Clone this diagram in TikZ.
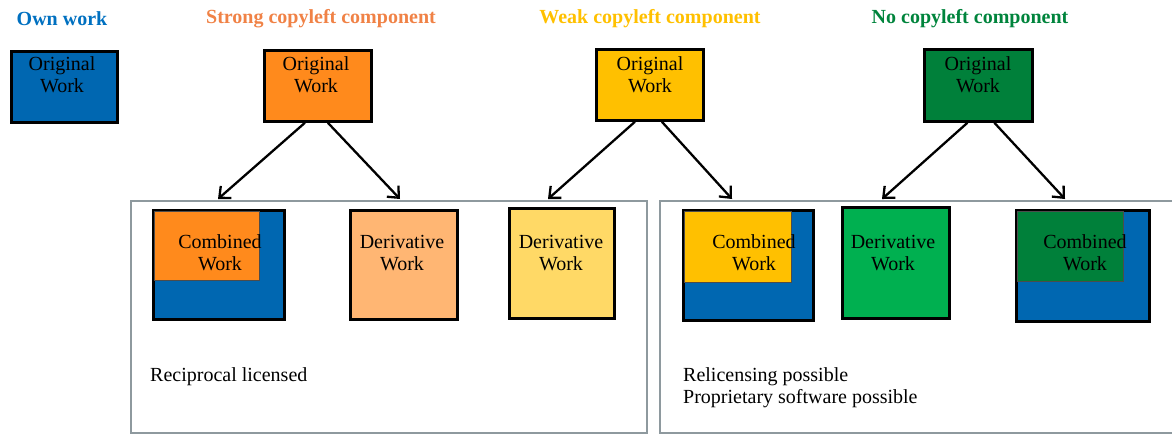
\documentclass[tikz,border=0pt]{standalone}
\usepackage{fontspec}
\setmainfont{Liberation Serif}
\usetikzlibrary{arrows.meta,positioning}

\definecolor{ownblue}{HTML}{0067B1}
\definecolor{ownhead}{HTML}{0070C0}
\definecolor{strongfill}{HTML}{FF8A1C}
\definecolor{stronghead}{HTML}{F08246}
\definecolor{strongderiv}{HTML}{FFB673}
\definecolor{weakfill}{HTML}{FFC000}
\definecolor{weakderiv}{HTML}{FFD966}
\definecolor{nofill}{HTML}{00803A}
\definecolor{nohead}{HTML}{00843C}
\definecolor{noderiv}{HTML}{00B050}
\definecolor{framegray}{HTML}{8E999E}

\tikzset{
  txt/.style={font=\fontsize{20}{22}\selectfont, align=center, inner sep=0pt},
  head/.style={font=\fontsize{20}{22}\selectfont\bfseries, inner sep=0pt},
  origbox/.style={draw=black, line width=2.8pt, rectangle, anchor=north west, inner sep=0pt},
  workbox/.style={draw=black, line width=2.5pt, rectangle, anchor=north west, inner sep=0pt},
  innerbox/.style={draw=black!70, line width=0.8pt, rectangle, anchor=north west, inner sep=0pt},
  group/.style={draw=framegray, line width=2.4pt, rectangle, anchor=north west, inner sep=0pt},
  arr/.style={draw=black, line width=2.3pt, -{Straight Barb[length=9pt,width=16pt,line width=2.3pt]}},
}

\begin{document}
\begin{tikzpicture}[x=1pt,y=-1pt]
\useasboundingbox (0,0) rectangle (1172,434);

% column headings
\node[head, text=ownhead]    (hown)    at (62,19)  {Own work};
\node[head, text=stronghead] (hstrong) at (321,19) {Strong copyleft component};
\node[head, text=weakfill]   (hweak)   at (650,19) {Weak copyleft component};
\node[head, text=nohead]     (hno)     at (970,19) {No copyleft component};

% group frames
\node[group, minimum width=516pt, minimum height=232pt] (recip) at (130,200) {};
\node[group, minimum width=530pt, minimum height=232pt] (relic) at (659,200) {};
\node[txt, anchor=west] (trecip) at (150,377) {Reciprocal licensed};
\node[txt, anchor=west, align=left] (trelic) at (683,388) {Relicensing possible\\Proprietary software possible};

% original works
\node[origbox, fill=ownblue,    minimum width=106pt, minimum height=71pt] (oown)    at (10,50)  {};
\node[origbox, fill=strongfill, minimum width=107pt, minimum height=71pt] (ostrong) at (263,49) {};
\node[origbox, fill=weakfill,   minimum width=107pt, minimum height=71pt] (oweak)   at (595,48) {};
\node[origbox, fill=nofill,     minimum width=108pt, minimum height=72pt] (ono)     at (923,48) {};
\node[txt] (toown)    at (62,75)  {Original\\Work};
\node[txt] (tostrong) at (316,75) {Original\\Work};
\node[txt] (toweak)   at (650,75) {Original\\Work};
\node[txt] (tono)     at (978,75) {Original\\Work};

% strong copyleft results
\node[workbox, fill=ownblue, minimum width=131pt, minimum height=109pt] (cstrong) at (152,209) {};
\node[innerbox, fill=strongfill, minimum width=105pt, minimum height=69pt] (cstrongin) at (153.5,210.5) {};
\node[txt] (tcstrong) at (220,253) {Combined\\Work};
\node[workbox, fill=strongderiv, minimum width=107pt, minimum height=109pt] (dstrong) at (349,209) {};
\node[txt] (tdstrong) at (402,253) {Derivative\\Work};

% weak copyleft results
\node[workbox, fill=weakderiv, minimum width=105pt, minimum height=110pt] (dweak) at (508,207) {};
\node[txt] (tdweak) at (561,253) {Derivative\\Work};
\node[workbox, fill=ownblue, minimum width=130pt, minimum height=110pt] (cweak) at (682,209) {};
\node[innerbox, fill=weakfill, minimum width=107pt, minimum height=71pt] (cweakin) at (683.5,210.5) {};
\node[txt] (tcweak) at (754,253) {Combined\\Work};

% no copyleft results
\node[workbox, fill=noderiv, minimum width=107pt, minimum height=111pt] (dno) at (841,206) {};
\node[txt] (tdno) at (893,253) {Derivative\\Work};
\node[workbox, fill=ownblue, minimum width=133pt, minimum height=111pt] (cno) at (1015,209) {};
\node[innerbox, fill=nofill, minimum width=106pt, minimum height=70pt] (cnoin) at (1016.5,210.5) {};
\node[txt] (tcno) at (1085,253) {Combined\\Work};

% arrow end points on the group frames
\coordinate (estrongc) at (218,199);
\coordinate (estrongd) at (400,199);
\coordinate (eweakd)   at (548,199);
\coordinate (eweakc)   at (732,199);
\coordinate (enod)     at (882,199);
\coordinate (enoc)     at (1065,199);

\draw[arr] ([xshift=-13pt]ostrong.south) -- (estrongc);
\draw[arr] ([xshift=10pt]ostrong.south)  -- (estrongd);
\draw[arr] ([xshift=-15pt]oweak.south)   -- (eweakd);
\draw[arr] ([xshift=12pt]oweak.south)    -- (eweakc);
\draw[arr] ([xshift=-11pt]ono.south)     -- (enod);
\draw[arr] ([xshift=16pt]ono.south)      -- (enoc);
\end{tikzpicture}
\end{document}
